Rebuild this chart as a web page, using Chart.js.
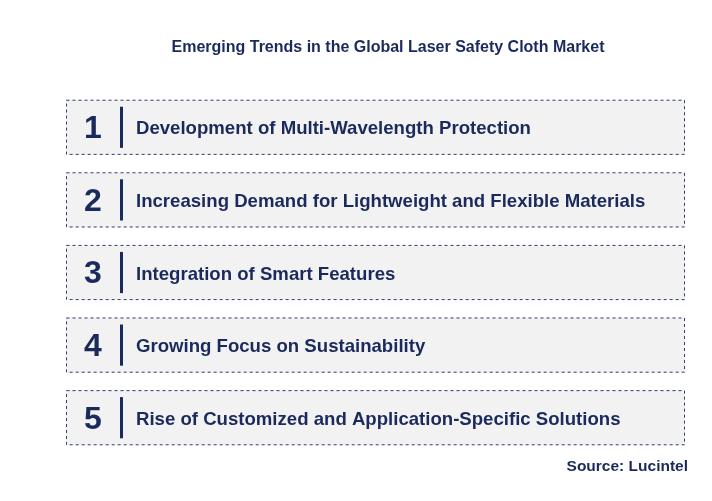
<!DOCTYPE html>
<html><head><meta charset="utf-8">
<script src="https://cdn.jsdelivr.net/npm/chart.js@4"></script>
<style>html,body{margin:0;padding:0;background:#fff}#w{width:712px;height:501px}</style>
</head><body><div id="w"><canvas id="c"></canvas></div>
<script>
const titleText = "Emerging Trends in the Global Laser Safety Cloth Market";
const sourceText = "Source: Lucintel";
const numbers = ["1","2","3","4","5"];
const trends = [
  "Development of Multi-Wavelength Protection",
  "Increasing Demand for Lightweight and Flexible Materials",
  "Integration of Smart Features",
  "Growing Focus on Sustainability",
  "Rise of Customized and Application-Specific Solutions"
];
const values = [1,1,1,1,1];
const navy = "#1b2a5c";

const deco = {
  id:'deco',
  afterDatasetsDraw(chart){
    const ctx = chart.ctx;
    const meta = chart.getDatasetMeta(0);
    ctx.save();
    meta.data.forEach((bar,i)=>{
      const p = bar.getProps(['x','y','base','height'],true);
      const l = p.base, r = p.x, t = p.y - p.height/2, b = p.y + p.height/2;
      ctx.setLineDash([3,3]);
      ctx.strokeStyle = "#2f3f6f"; ctx.lineWidth = 1;
      ctx.strokeRect(l+0.5, t+0.5, r-l-1, b-t-1);
      ctx.setLineDash([]);
      ctx.fillStyle = navy;
      ctx.font = "bold 32px Arial, 'Liberation Sans'";
      ctx.textAlign = "center"; ctx.textBaseline = "middle";
      ctx.fillText(numbers[i], l+27, p.y+2);
      ctx.fillRect(l+54, t+7, 3, b-t-14);
      ctx.font = "bold 18.6px Arial, 'Liberation Sans'";
      ctx.textAlign = "left";
      ctx.fillText(trends[i], l+70, p.y+2);
    });
    ctx.font = "bold 16px Arial, 'Liberation Sans'";
    ctx.textAlign = "center"; ctx.fillStyle = navy;
    ctx.fillText(titleText, 388, 48);
    ctx.textAlign = "right";
    ctx.font = "bold 15.5px Arial, 'Liberation Sans'";
    ctx.fillText(sourceText, 688, 467);
    ctx.restore();
  }
};

new Chart(document.getElementById('c'), {
  type:'bar',
  data:{labels:numbers, datasets:[{data:values, backgroundColor:"#f2f2f2", borderWidth:0, barPercentage:0.76, categoryPercentage:1}]},
  options:{
    indexAxis:'y', responsive:true, maintainAspectRatio:false, animation:false,
    layout:{padding:{left:66,right:27,top:91,bottom:47}},
    plugins:{legend:{display:false},tooltip:{enabled:false}},
    scales:{x:{display:false,min:0,max:1},y:{display:false}}
  },
  plugins:[deco]
});
</script></body></html>
